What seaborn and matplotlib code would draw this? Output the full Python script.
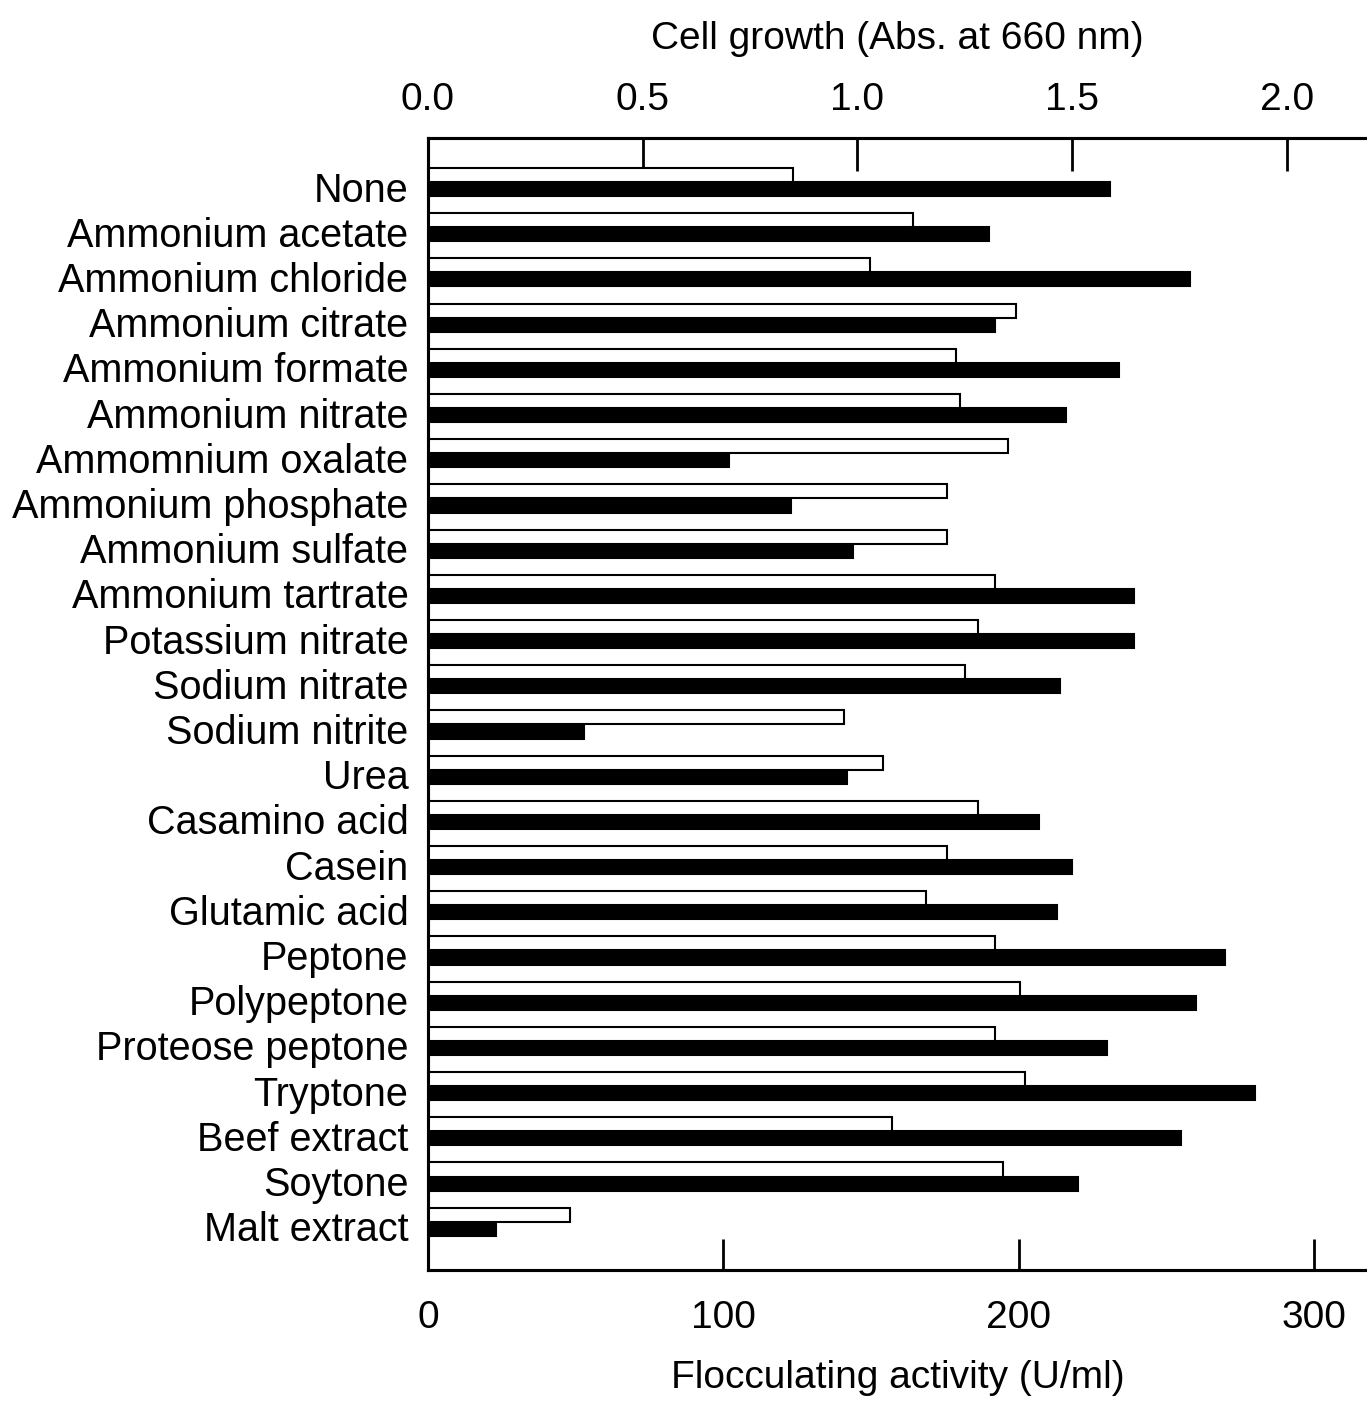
import numpy as np
import pandas as pd
import matplotlib.pyplot as plt
import seaborn as sns

# Dados
fontes = [
    'None', 'Ammonium acetate', 'Ammonium chloride', 'Ammonium citrate',
    'Ammonium formate', 'Ammonium nitrate', 'Ammomnium oxalate',
    'Ammonium phosphate', 'Ammonium sulfate', 'Ammonium tartrate',
    'Potassium nitrate', 'Sodium nitrate', 'Sodium nitrite', 'Urea',
    'Casamino acid', 'Casein', 'Glutamic acid', 'Peptone', 'Polypeptone',
    'Proteose peptone', 'Tryptone', 'Beef extract', 'Soytone', 'Malt extract',
]
crescimento = [0.85, 1.13, 1.03, 1.37, 1.23, 1.24, 1.35, 1.21, 1.21, 1.32,
               1.28, 1.25, 0.97, 1.06, 1.28, 1.21, 1.16, 1.32, 1.38, 1.32,
               1.39, 1.08, 1.34, 0.33]
floculacao = [231, 190, 258, 192, 234, 216, 102, 123, 144, 239,
              239, 214, 53, 142, 207, 218, 213, 270, 260, 230,
              280, 255, 220, 23]

df_cresc = pd.DataFrame({'fonte': fontes, 'valor': crescimento, 'medida': 'growth'})
df_floc = pd.DataFrame({'fonte': fontes, 'valor': floculacao, 'medida': 'floc'})
ordem_hue = ['growth', 'floc']
paleta = {'growth': 'white', 'floc': 'black'}

sns.set_style('ticks')
plt.rcParams['font.family'] = ['Liberation Sans', 'DejaVu Sans']
plt.rcParams['text.color'] = 'black'
plt.rcParams['axes.labelcolor'] = 'black'
plt.rcParams['xtick.color'] = 'black'
plt.rcParams['ytick.color'] = 'black'
plt.rcParams['axes.edgecolor'] = 'black'

fig = plt.figure(figsize=(13.67, 14.06), dpi=100)
ax = fig.add_axes([0.313, 0.097, 0.687, 0.805])

sns.barplot(data=df_floc, x='valor', y='fonte', hue='medida', hue_order=ordem_hue,
            palette=paleta, dodge=True, width=0.62, edgecolor='black',
            linewidth=1.5, orient='h', legend=False, ax=ax)

ax2 = ax.twiny()
sns.barplot(data=df_cresc, x='valor', y='fonte', hue='medida', hue_order=ordem_hue,
            palette=paleta, dodge=True, width=0.62, edgecolor='black',
            linewidth=1.5, orient='h', legend=False, ax=ax2)

ax.set_xlim(0, 318)
ax2.set_xlim(0, 2.187)
ax.set_xticks([0, 100, 200, 300])
ax2.set_xticks([0.0, 0.5, 1.0, 1.5, 2.0])
ax2.set_xticklabels(['0.0', '0.5', '1.0', '1.5', '2.0'])

# rótulos alinhados com as barras pretas
ax.set_yticks(np.arange(len(fontes)) + 0.1)
ax.set_yticklabels(fontes)
ax.set_ylim(24.06, -0.98)

ax.set_xlabel('Flocculating activity (U/ml)', fontsize=28, labelpad=17)
ax2.set_xlabel('Cell growth (Abs. at 660 nm)', fontsize=28, labelpad=24)
ax.set_ylabel('')
ax2.set_ylabel('')

ax.tick_params(axis='x', direction='in', length=22, width=2, labelsize=28, pad=22)
ax2.tick_params(axis='x', direction='in', length=24, width=2, labelsize=28, pad=14)
ax.tick_params(axis='y', length=0, labelsize=28.5, pad=14)

for a in (ax, ax2):
    a.spines['right'].set_visible(False)
    for s in ('left', 'top', 'bottom'):
        a.spines[s].set_linewidth(2.2)

plt.savefig('out.png', dpi=100)
plt.close()
